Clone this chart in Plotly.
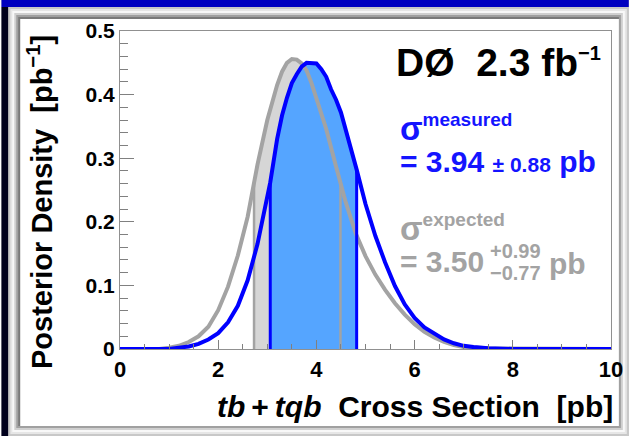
import plotly.graph_objects as go

# Posterior density for the measured tb+tqb cross section (pb)
meas_x = [0.0, 1.0, 1.2, 1.4, 1.6, 1.8, 2.0, 2.2, 2.4, 2.6, 2.8, 3.0, 3.06, 3.2, 3.3, 3.4, 3.5,
          3.6, 3.7, 3.8, 3.9, 4.0, 4.1, 4.2, 4.3, 4.4, 4.5, 4.6, 4.7, 4.82, 5.0, 5.2,
          5.4, 5.6, 5.8, 6.0, 6.2, 6.4, 6.6, 6.8, 7.0, 7.2, 7.5, 8.0, 10.0]
meas_y = [0.0, 0.0, 0.002, 0.004, 0.008, 0.015, 0.025, 0.042, 0.068, 0.108, 0.165, 0.236, 0.262, 0.33, 0.367, 0.395, 0.418,
          0.432, 0.444, 0.45, 0.45, 0.449, 0.44, 0.428, 0.408, 0.392, 0.372, 0.345, 0.318, 0.282, 0.228, 0.178,
          0.136, 0.099, 0.07, 0.049, 0.034, 0.024, 0.015, 0.009, 0.005, 0.003, 0.001, 0.0, 0.0]

# Expected (SM) posterior density
exp_x = [0.0, 0.8, 1.0, 1.2, 1.4, 1.6, 1.8, 2.0, 2.2, 2.4, 2.6, 2.73, 2.8, 3.0, 3.1, 3.2, 3.3, 3.4,
         3.5, 3.6, 3.7, 3.8, 3.9, 4.0, 4.2, 4.4, 4.49, 4.6, 4.8, 5.0, 5.2, 5.4, 5.6, 5.8,
         6.0, 6.2, 6.4, 6.6, 6.8, 7.0, 7.5, 10.0]
exp_y = [0.0, 0.0, 0.002, 0.005, 0.011, 0.02, 0.035, 0.061, 0.098, 0.147, 0.208, 0.26, 0.29, 0.36, 0.39, 0.415, 0.436, 0.45,
         0.456, 0.455, 0.449, 0.438, 0.418, 0.395, 0.346, 0.287, 0.261, 0.23, 0.182, 0.146, 0.117, 0.093, 0.072, 0.054,
         0.039, 0.027, 0.018, 0.011, 0.006, 0.003, 0.001, 0.0]

# 68% intervals
meas_band = (3.06, 4.82)
exp_band = (2.73, 4.49)

x_ticks = [0, 2, 4, 6, 8, 10]
y_ticks = [0, 0.1, 0.2, 0.3, 0.4, 0.5]
y_tick_text = ["0", "0.1", "0.2", "0.3", "0.4", "0.5"]

BLUE = "#0000ff"
BLUE_TEXT = "#1414ff"
BLUE_FILL = "#55a5ff"
GREY = "#a3a3a3"
GREY_FILL = "#d6d6d6"
FONT = "Liberation Sans, Arial, sans-serif"

W, H = 635, 436
ML, MR, MT, MB = 120, 18, 31, 87
PW, PH = W - ML - MR, H - MT - MB


def px(p):
    return (p - ML) / PW


def py(p):
    return (H - MB - p) / PH


def band(xs, ys, lo, hi):
    sx = [x for x in xs if lo <= x <= hi]
    sy = [y for x, y in zip(xs, ys) if lo <= x <= hi]
    return [lo] + sx + [hi], [0] + sy + [0]


def edge(xs, ys, x0):
    return [x0, x0], [0, ys[xs.index(x0)]]


fig = go.Figure()

gx, gy = band(exp_x, exp_y, *exp_band)
fig.add_trace(go.Scatter(x=gx, y=gy, fill="toself", fillcolor=GREY_FILL, mode="lines",
                         line=dict(width=0, color=GREY_FILL), hoverinfo="skip"))
bx, by = band(meas_x, meas_y, *meas_band)
fig.add_trace(go.Scatter(x=bx, y=by, fill="toself", fillcolor=BLUE_FILL, mode="lines",
                         line=dict(width=0, color=BLUE_FILL), hoverinfo="skip"))

for x0 in exp_band:
    ex, ey = edge(exp_x, exp_y, x0)
    fig.add_trace(go.Scatter(x=ex, y=ey, mode="lines", line=dict(color=GREY, width=2.5)))
fig.add_trace(go.Scatter(x=exp_x, y=exp_y, mode="lines",
                         line=dict(color=GREY, width=4, shape="linear")))
for x0 in meas_band:
    ex, ey = edge(meas_x, meas_y, x0)
    fig.add_trace(go.Scatter(x=ex, y=ey, mode="lines", line=dict(color=BLUE, width=3)))
fig.add_trace(go.Scatter(x=meas_x, y=meas_y, mode="lines",
                         line=dict(color=BLUE, width=4, shape="linear")))

# bevelled frame around the canvas
shapes = []


def rect(x0, y0, x1, y1, color):
    shapes.append(dict(type="rect", xref="paper", yref="paper", layer="below",
                       x0=px(x0), x1=px(x1), y0=py(y1), y1=py(y0),
                       fillcolor=color, line=dict(width=0)))


rect(0, 0, W, H, "#c0c0c0")
rect(0, 0, W, 7, "#0000c0")
rect(0, 7, 7, H, "#00001c")
rect(7, 7, W, H, "#c8c8c8")
rect(9, 9, W - 2, H - 2, "#e6e6e6")
rect(11, 11, W - 4, H - 4, "#f8f8f8")
rect(13, 13, W - 6, H - 6, "#cfcfcf")
rect(15, 15, W - 8, H - 8, "#a0a0a0")
rect(17, 17, W - 10, H - 10, "#7a7a7a")
rect(19, 19, W - 10, H - 10, "#ffffff")

ann = []


def text(s, x, y, size, color="black", xanchor="left", yanchor="middle", angle=0, bold=True):
    ann.append(dict(text=s, xref="paper", yref="paper", x=px(x), y=py(y), showarrow=False,
                    xanchor=xanchor, yanchor=yanchor, textangle=angle, borderpad=0,
                    font=dict(family=FONT, size=size, color=color, weight="bold" if bold else "normal")))


# experiment label
text("DØ  2.3 fb<sup><span style='font-size:20px'>−1</span></sup>", 398, 63, 39)

# measured cross section
text("σ<sup><span style='font-size:19px'>measured</span></sup>", 402, 128, 33, BLUE_TEXT)
text("= 3.94 <span style='font-size:21px'>± 0.88</span> pb", 402, 161, 30, BLUE_TEXT)

# expected cross section
text("σ<sup><span style='font-size:19px'>expected</span></sup>", 402, 228, 33, GREY)
text("= 3.50", 402, 261, 30, GREY)
text("+0.99", 494, 251, 20, GREY)
text("−0.77", 494, 273, 20, GREY)
text("pb", 553, 263, 30, GREY)

# axis titles
text("<i>tb</i>\u2009+\u2009<i>tqb</i>  Cross Section  [pb]", 620, 406, 30, xanchor="right")
text("Posterior Density  [pb<sup>−1</sup>]", 39, 202, 29, xanchor="center", angle=-90)

fig.update_layout(
    width=W, height=H,
    margin=dict(l=ML, r=MR, t=MT, b=MB),
    paper_bgcolor="white", plot_bgcolor="white",
    showlegend=False,
    shapes=shapes, annotations=ann,
    xaxis=dict(range=[0, 10], tickvals=x_ticks, ticks="inside", ticklen=9, tickwidth=1,
               tickcolor="#808080", linecolor="#909090", linewidth=1.2, mirror=True,
               showgrid=False, zeroline=False,
               minor=dict(dtick=0.5, ticks="inside", ticklen=5, tickcolor="#808080", showgrid=False),
               tickfont=dict(family=FONT, size=22, color="black", weight="bold")),
    yaxis=dict(range=[0, 0.5], tickvals=y_ticks, ticktext=y_tick_text, ticks="inside", ticklen=14,
               tickwidth=1, tickcolor="#808080", linecolor="#909090", linewidth=1.2, mirror=True,
               showgrid=False, zeroline=False,
               minor=dict(dtick=0.02, ticks="inside", ticklen=8, tickcolor="#808080", showgrid=False),
               tickfont=dict(family=FONT, size=21, color="black", weight="bold")),
)

fig.write_html("out.html")
